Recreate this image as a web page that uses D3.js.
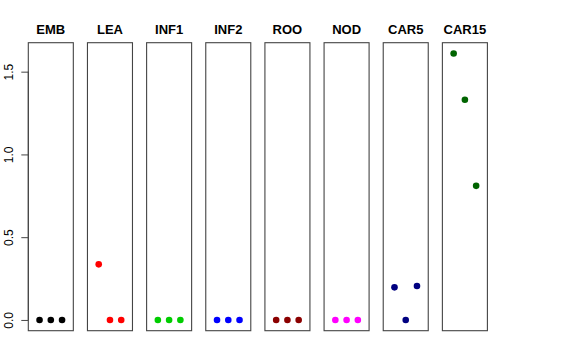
<!DOCTYPE html>
<html>
<head>
<meta charset="utf-8">
<script src="https://cdn.jsdelivr.net/npm/d3@7"></script>
<style>
  body { margin: 0; background: #fff; }
  text { font-family: "Liberation Sans", Arial, sans-serif; }
</style>
</head>
<body>
<div id="chart"></div>
<script>
var groups = ['EMB', 'LEA', 'INF1', 'INF2', 'ROO', 'NOD', 'CAR5', 'CAR15'];
var colors = ['#000000', '#ff0000', '#00cd00', '#0000ff', '#8b0000', '#ff00ff', '#000080', '#006400'];
var values = [
    [0, 0, 0],
    [0.336, 0, 0],
    [0, 0, 0],
    [0, 0, 0],
    [0, 0, 0],
    [0, 0, 0],
    [0.197, 0, 0.205],
    [1.61, 1.33, 0.81]
];
var yTicks = [0, 0.5, 1.0, 1.5];
var yTickLabels = ['0.0', '0.5', '1.0', '1.5'];

var width = 576;
var height = 360;

var svg = d3.select('#chart')
    .append('svg')
    .attr('width', width)
    .attr('height', height);

var panel = d3.scaleBand()
    .domain(groups)
    .range([28.3, 487.4])
    .paddingInner(0.239)
    .paddingOuter(0);

var y = d3.scaleLinear()
    .domain([-0.065, 1.675])
    .range([330.7, 42.7]);

var x = d3.scaleLinear()
    .domain([0, 4])
    .range([0, panel.bandwidth()]);

var panels = svg.selectAll('g.panel')
    .data(groups)
    .enter()
    .append('g')
    .attr('class', 'panel')
    .attr('transform', function(d) { return 'translate(' + panel(d) + ',0)'; });

panels.append('rect')
    .attr('x', 0)
    .attr('y', y(1.675))
    .attr('width', panel.bandwidth())
    .attr('height', y(-0.065) - y(1.675))
    .attr('fill', 'none')
    .attr('stroke', '#444')
    .attr('stroke-width', 1.1);

panels.append('text')
    .attr('x', panel.bandwidth() / 2)
    .attr('y', 34)
    .attr('text-anchor', 'middle')
    .attr('font-size', 13)
    .attr('font-weight', 'bold')
    .text(function(d) { return d; });

panels.each(function(d, i) {
    d3.select(this).selectAll('circle')
        .data(values[i])
        .enter()
        .append('circle')
        .attr('cx', function(v, j) { return x(j + 1); })
        .attr('cy', function(v) { return y(v); })
        .attr('r', 3.3)
        .attr('fill', colors[i]);
});

// y axis on the first panel only
var yAxis = d3.axisLeft(y)
    .tickValues(yTicks)
    .tickSize(7)
    .tickFormat(function(d, i) { return yTickLabels[i]; });

var axisG = svg.append('g')
    .attr('transform', 'translate(' + panel(groups[0]) + ',0)')
    .call(yAxis);

axisG.select('.domain')
    .attr('d', 'M0,' + y(0) + 'V' + y(1.5))
    .attr('stroke', '#444');
axisG.selectAll('.tick line').attr('stroke', '#444');
axisG.selectAll('.tick text')
    .attr('font-size', 12)
    .attr('fill', '#000')
    .attr('text-anchor', 'middle')
    .attr('x', 0)
    .attr('dy', 0)
    .attr('transform', 'translate(-15,0) rotate(-90)');
</script>
</body>
</html>
